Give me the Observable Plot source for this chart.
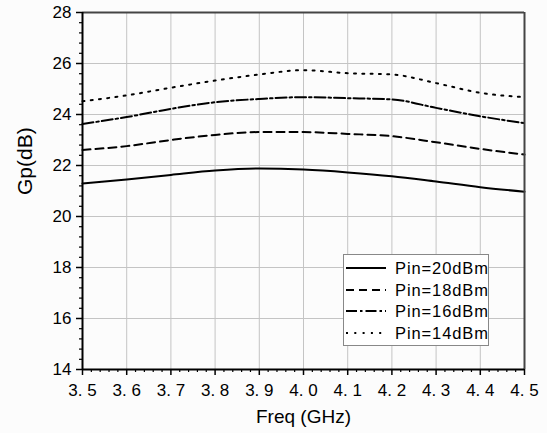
<!DOCTYPE html>
<html>
<head>
<meta charset="utf-8">
<script src="https://cdn.jsdelivr.net/npm/d3@7"></script>
<script src="https://cdn.jsdelivr.net/npm/@observablehq/plot@0.6"></script>
<style>
  html, body { margin: 0; padding: 0; background: #fcfcfc; }
  #wrap { position: relative; width: 547px; height: 433px; }
  #legend {
    position: absolute; left: 343px; top: 254px; width: 146px; height: 92px;
    border: 1px solid #888; background: #ffffff; box-sizing: border-box;
    font-family: "Liberation Sans", Arial, sans-serif; font-size: 16.5px; color: #000;
  }
  .row { position: absolute; left: 0; height: 20px; display: flex; align-items: center; }
  .row svg { margin-left: 2px; }
  .row span { margin-left: 9px; letter-spacing: 0.9px; line-height: 18px; }
</style>
</head>
<body>
<div id="wrap"></div>
<script>
const freq = [3.5, 3.6, 3.7, 3.8, 3.9, 4.0, 4.1, 4.2, 4.3, 4.4, 4.5];
const pin20 = [21.29, 21.45, 21.63, 21.80, 21.88, 21.84, 21.73, 21.58, 21.37, 21.15, 20.97];
const pin18 = [22.61, 22.76, 23.00, 23.20, 23.31, 23.31, 23.24, 23.15, 22.91, 22.65, 22.43];
const pin16 = [23.63, 23.90, 24.22, 24.48, 24.61, 24.68, 24.64, 24.59, 24.26, 23.93, 23.66];
const pin14 = [24.52, 24.75, 25.05, 25.33, 25.57, 25.74, 25.62, 25.57, 25.23, 24.85, 24.68];
const seriesNames = ["Pin=20dBm", "Pin=18dBm", "Pin=16dBm", "Pin=14dBm"];
const seriesValues = [pin20, pin18, pin16, pin14];
const dashes = [null, "8,5", "11,3,2.5,3", "2,6.3"];
const yTicks = [14, 16, 18, 20, 22, 24, 26, 28];
const xTicks = [3.5, 3.6, 3.7, 3.8, 3.9, 4.0, 4.1, 4.2, 4.3, 4.4, 4.5];

const yMinor = d3.range(14, 28.001, 0.4).filter(v => Math.abs(v / 2 - Math.round(v / 2)) > 1e-6);
const xMinor = d3.range(3.5, 4.5001, 0.02).filter(v => Math.abs(v * 10 - Math.round(v * 10)) > 1e-6);

const lineMarks = seriesValues.map((vals, i) =>
  Plot.line(freq.map((f, j) => ({f, g: vals[j]})), {
    x: "f", y: "g", stroke: "#000", strokeWidth: 2,
    strokeDasharray: dashes[i], curve: "monotone-x"
  })
);

const FONT = "'Liberation Sans', Arial, sans-serif";

const chart = Plot.plot({
  width: 547, height: 433,
  marginLeft: 82, marginRight: 23, marginTop: 12, marginBottom: 64,
  style: { background: "transparent", fontFamily: FONT, fontSize: "17px", color: "#000" },
  x: { domain: [3.5, 4.5] },
  y: { domain: [14, 28] },
  marks: [
    Plot.gridX(xTicks, { stroke: "#c4c4c4", strokeOpacity: 1, strokeWidth: 1 }),
    Plot.gridY(yTicks, { stroke: "#c4c4c4", strokeOpacity: 1, strokeWidth: 1 }),
    ...lineMarks,
    Plot.ruleY([28], { stroke: "#444", strokeWidth: 2 }),
    Plot.ruleX([4.5], { stroke: "#444", strokeWidth: 2 }),
    Plot.axisY(yMinor, { tickSize: 3, text: null, label: null, strokeWidth: 1.2 }),
    Plot.axisX(xMinor, { tickSize: 3, text: null, label: null, strokeWidth: 1.2 }),
    Plot.axisY(yTicks, { tickSize: 6, tickPadding: 5, label: null, strokeWidth: 1.5, fontSize: 17 }),
    Plot.axisX(xTicks, { tickSize: 6, tickPadding: 8, label: null, strokeWidth: 1.5, fontSize: 17,
      tickFormat: d => d.toFixed(1).replace(".", ". ") }),
    Plot.ruleX([3.5], { stroke: "#000", strokeWidth: 2 }),
    Plot.ruleY([14], { stroke: "#000", strokeWidth: 2 }),
    Plot.text(["Gp(dB)"], { frameAnchor: "left", dx: -57, dy: 4, rotate: -90, fontSize: 21,
      fontFamily: FONT }),
    Plot.text(["Freq (GHz)"], { frameAnchor: "bottom", dy: 53, fontSize: 19,
      fontFamily: FONT })
  ]
});

const wrap = document.getElementById("wrap");
wrap.appendChild(chart);

const legend = document.createElement("div");
legend.id = "legend";
seriesNames.forEach((name, i) => {
  const row = document.createElement("div");
  row.className = "row";
  row.style.top = (3 + i * 21.5) + "px";
  const ns = "http://www.w3.org/2000/svg";
  const s = document.createElementNS(ns, "svg");
  s.setAttribute("width", 40); s.setAttribute("height", 10);
  const l = document.createElementNS(ns, "line");
  l.setAttribute("x1", 0); l.setAttribute("x2", 40);
  l.setAttribute("y1", 5); l.setAttribute("y2", 5);
  l.setAttribute("stroke", "#000"); l.setAttribute("stroke-width", 2);
  if (dashes[i]) l.setAttribute("stroke-dasharray", dashes[i]);
  s.appendChild(l);
  row.appendChild(s);
  const t = document.createElement("span");
  t.textContent = name;
  row.appendChild(t);
  legend.appendChild(row);
});
wrap.appendChild(legend);
</script>
</body>
</html>
